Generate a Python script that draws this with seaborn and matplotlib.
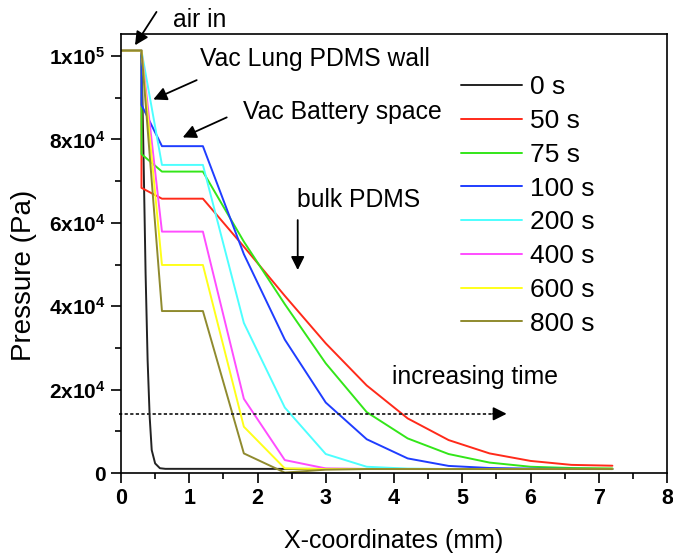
import matplotlib
matplotlib.use("Agg")
import matplotlib.pyplot as plt
import pandas as pd
import seaborn as sns
from matplotlib.ticker import MultipleLocator

# Series labels and line colours (one per elapsed time)
times = ["0 s", "50 s", "75 s", "100 s", "200 s", "400 s", "600 s", "800 s"]
colors = ["#222222", "#ff2a1a", "#33e619", "#1f3dff", "#4dffff", "#ff4dff", "#ffff1a", "#8f8a2e"]

# 0 s profile: sharp drop right behind the inlet
x_initial = [0, 0.3, 0.33, 0.36, 0.39, 0.42, 0.45, 0.5, 0.57, 0.65, 7.2]
p_0s = [101325, 101325, 76000, 48000, 27000, 13500, 5500, 2300, 1150, 1000, 950]

# Mesh nodes for the later profiles (0.3 appears twice: wall interface)
x_mesh = [0, 0.3, 0.3, 0.6, 1.2, 1.8, 2.4, 3.0, 3.6, 4.2, 4.8, 5.4, 6.0, 6.6, 7.2]
p_50s = [101325, 101325, 68400, 65800, 65800, 54300, 42500, 31100, 21000, 13100, 7900, 4700, 2900, 1950, 1750]
p_75s = [101325, 101325, 76500, 72300, 72300, 55500, 40500, 26300, 14600, 8300, 4550, 2500, 1500, 1200, 1100]
p_100s = [101325, 101325, 88300, 78400, 78400, 52500, 32000, 16900, 8100, 3500, 1700, 1200, 1050, 1000, 950]
p_200s = [101325, 101325, 101325, 73900, 73900, 36000, 15700, 4550, 1500, 1050, 950, 950, 950, 950, 950]
p_400s = [101325, 101325, 101325, 57900, 57900, 17800, 3100, 1100, 950, 950, 950, 950, 950, 950, 950]
p_600s = [101325, 101325, 101325, 49900, 49900, 11100, 1100, 950, 950, 950, 950, 950, 950, 950, 950]
p_800s = [101325, 101325, 101325, 38850, 38850, 4700, 100, 800, 950, 950, 950, 950, 950, 950, 950]

# Axis tick values and labels
x_ticks = [0, 1, 2, 3, 4, 5, 6, 7, 8]
x_tick_labels = ["0", "1", "2", "3", "4", "5", "6", "7", "8"]
y_ticks = [0, 20000, 40000, 60000, 80000, 100000]
y_tick_labels = ["0", r"$\mathbf{2x10^{4}}$", r"$\mathbf{4x10^{4}}$", r"$\mathbf{6x10^{4}}$",
                 r"$\mathbf{8x10^{4}}$", r"$\mathbf{1x10^{5}}$"]

series = [(x_initial, p_0s), (x_mesh, p_50s), (x_mesh, p_75s), (x_mesh, p_100s),
          (x_mesh, p_200s), (x_mesh, p_400s), (x_mesh, p_600s), (x_mesh, p_800s)]
rows = []
for label, (xs, ps) in zip(times, series):
    for xv, pv in zip(xs, ps):
        rows.append({"time": label, "x": xv, "p": pv})
df = pd.DataFrame(rows)

sns.set_theme(style="ticks")
plt.rcParams["font.family"] = ["Liberation Sans", "DejaVu Sans"]
plt.rcParams["mathtext.fontset"] = "custom"
plt.rcParams["mathtext.rm"] = "Liberation Sans"
plt.rcParams["mathtext.bf"] = "Liberation Sans:bold"
for key in ("text.color", "axes.labelcolor", "xtick.color", "ytick.color", "axes.edgecolor"):
    plt.rcParams[key] = "black"

fig = plt.figure(figsize=(6.73, 5.54), dpi=100)
ax = fig.add_axes([0.1798, 0.1462, 0.8113, 0.7924])

sns.lineplot(data=df, x="x", y="p", hue="time", hue_order=times,
             palette=dict(zip(times, colors)), sort=False, estimator=None,
             linewidth=1.4, ax=ax)

ax.set_xlim(0, 8)
ax.set_ylim(0, 105300)
ax.set_xticks(x_ticks, x_tick_labels, fontweight="bold", fontsize=15.5)
ax.set_yticks(y_ticks, y_tick_labels, fontweight="bold", fontsize=15)
ax.xaxis.set_minor_locator(MultipleLocator(0.5))
ax.yaxis.set_minor_locator(MultipleLocator(10000))
ax.tick_params(which="major", direction="out", length=7, width=1.2, color="black", pad=4)
ax.tick_params(which="minor", direction="out", length=4, width=1.2, color="black")
for s in ax.spines.values():
    s.set_visible(True)
    s.set_linewidth(1.2)
    s.set_color("black")

ax.set_xlabel("X-coordinates (mm)", fontsize=18, labelpad=14)
ax.set_ylabel("Pressure (Pa)", fontsize=20)
ax.yaxis.set_label_coords(-0.154, 0.45)

handles, labels = ax.get_legend_handles_labels()
ax.legend(handles, labels, loc="upper left", bbox_to_anchor=(0.6227, 0.906),
          frameon=False, fontsize=19, handlelength=2.3, handletextpad=0.3,
          labelspacing=0.37, borderpad=0, borderaxespad=0)

arrow = dict(arrowstyle="-|>", color="black", lw=1.3, mutation_scale=20, shrinkA=0, shrinkB=0)
txt = dict(fontsize=17.8, va="center", ha="left", clip_on=False)

ax.annotate("", xy=(0.205, 102600), xytext=(0.52, 110600), arrowprops=arrow, annotation_clip=False)
ax.text(0.76, 108700, "air in", **txt)

ax.annotate("", xy=(0.473, 89600), xytext=(1.109, 94240), arrowprops=arrow)
ax.text(1.157, 99280, "Vac Lung PDMS wall", **txt)

ax.annotate("", xy=(0.904, 80500), xytext=(1.549, 85300), arrowprops=arrow)
ax.text(1.787, 86570, "Vac Battery space", **txt)

ax.annotate("", xy=(2.589, 48680), xytext=(2.589, 60670), arrowprops=arrow)
ax.text(2.579, 65470, "bulk PDMS", **txt)

ax.plot([-0.03, 5.5], [14200, 14200], color="#222222", lw=1.3, ls=(0, (1.8, 1.3)), clip_on=False)
ax.annotate("", xy=(5.651, 14200), xytext=(5.45, 14200), arrowprops=arrow)
ax.text(3.966, 23020, "increasing time", **txt)

fig.savefig("out.png", dpi=100)
